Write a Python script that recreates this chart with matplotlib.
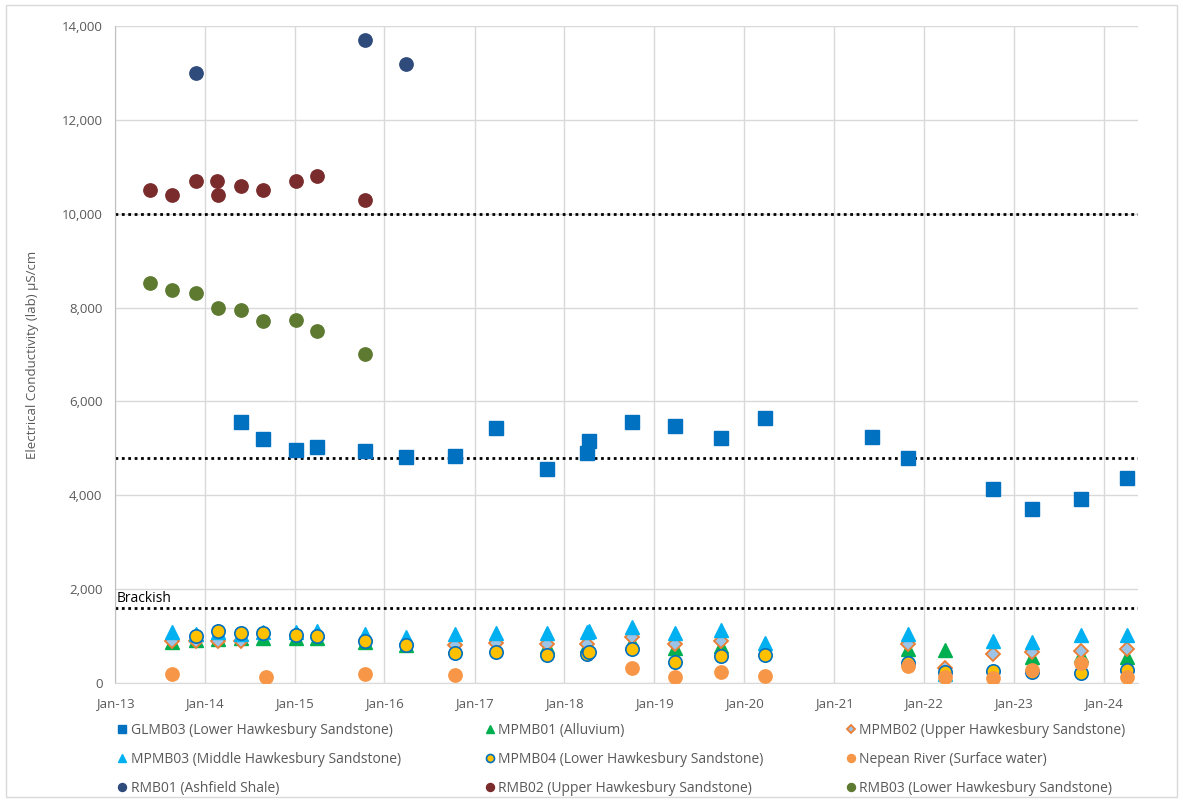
import matplotlib.pyplot as plt
import matplotlib.dates as mdates
import matplotlib.ticker as mticker
import pandas as pd
from matplotlib.patches import Rectangle

plt.rcParams['font.family'] = ['Open Sans', 'DejaVu Sans']

# ---------- data (EC, uS/cm) ----------
glmb03_dates = ["2014-05-27", "2014-08-26", "2015-01-08", "2015-04-01", "2015-10-13",
                "2016-03-30", "2016-10-13", "2017-03-28", "2017-10-22", "2018-04-01",
                "2018-04-12", "2018-10-01", "2019-03-25", "2019-10-01", "2020-03-28",
                "2021-06-04", "2021-10-30", "2022-10-08", "2023-03-15", "2023-10-01",
                "2024-04-05"]
glmb03_ec = [5570, 5200, 4960, 5020, 4950, 4820, 4840, 5440, 4560, 4900,
             5150, 5560, 5480, 5220, 5650, 5250, 4790, 4130, 3700, 3930, 4370]

mpmb01_dates = ["2013-08-20", "2013-11-25", "2014-02-22", "2014-05-27", "2014-08-26",
                "2015-01-08", "2015-04-01", "2015-10-13", "2016-03-30", "2016-10-13",
                "2017-10-22", "2018-04-01", "2018-10-01", "2019-03-25", "2019-10-01",
                "2021-10-30", "2022-03-28", "2023-03-15", "2023-10-01", "2024-04-05"]
mpmb01_ec = [880, 920, 930, 960, 960, 950, 950, 880, 800, 790,
             780, 820, 880, 740, 780, 720, 700, 550, 600, 560]

mpmb02_dates = ["2013-08-20", "2013-11-25", "2014-02-22", "2014-05-27", "2016-10-13",
                "2017-03-28", "2017-10-22", "2018-04-01", "2018-10-01", "2019-03-25",
                "2019-10-01", "2021-10-30", "2022-03-28", "2022-10-08", "2023-03-15",
                "2023-10-01", "2024-04-05"]
mpmb02_ec = [900, 900, 900, 900, 800, 860, 840, 840, 970, 840,
             900, 830, 320, 620, 650, 690, 720]

mpmb03_dates = ["2013-08-20", "2013-11-25", "2014-02-22", "2014-05-27", "2014-08-26",
                "2015-01-08", "2015-04-01", "2015-10-13", "2016-03-30", "2016-10-13",
                "2017-03-28", "2017-10-22", "2018-04-01", "2018-04-12", "2018-10-01",
                "2019-03-25", "2019-10-01", "2020-03-28", "2021-10-30", "2022-03-28",
                "2022-10-08", "2023-03-15", "2023-10-01", "2024-04-05"]
mpmb03_ec = [1090, 1050, 1080, 1050, 1090, 1090, 1100, 1050, 980, 1040,
             1070, 1070, 1080, 1100, 1200, 1070, 1120, 850, 1050, 190,
             900, 870, 1030, 1030]

mpmb04_dates = ["2013-11-25", "2014-02-22", "2014-05-27", "2014-08-26", "2015-01-08",
                "2015-04-01", "2015-10-13", "2016-03-30", "2016-10-13", "2017-03-28",
                "2017-10-22", "2018-04-01", "2018-04-12", "2018-10-01", "2019-03-25",
                "2019-10-01", "2020-03-28", "2021-10-30", "2022-03-28", "2022-10-08",
                "2023-03-15", "2023-10-01", "2024-04-05"]
mpmb04_ec = [1000, 1110, 1060, 1060, 1030, 1000, 900, 800, 630, 650,
             590, 620, 670, 720, 440, 570, 600, 420, 240, 260,
             240, 210, 270]

nepean_dates = ["2013-08-20", "2014-09-05", "2015-10-13", "2016-10-13", "2018-10-01",
                "2019-03-25", "2019-10-01", "2020-03-28", "2021-10-30", "2022-03-28",
                "2022-10-08", "2023-03-15", "2023-10-01", "2024-04-05"]
nepean_ec = [200, 130, 200, 180, 310, 120, 230, 150, 360, 130, 100, 280, 420, 120]

rmb01_dates = ["2013-11-25", "2015-10-13", "2016-03-30"]
rmb01_ec = [13000, 13700, 13200]

rmb02_dates = ["2013-05-22", "2013-08-20", "2013-11-25", "2014-02-20", "2014-02-24",
               "2014-05-27", "2014-08-26", "2015-01-08", "2015-04-01", "2015-10-13"]
rmb02_ec = [10500, 10400, 10700, 10700, 10400, 10600, 10500, 10700, 10800, 10300]

rmb03_dates = ["2013-05-22", "2013-08-20", "2013-11-25", "2014-02-22", "2014-05-27",
               "2014-08-26", "2015-01-08", "2015-04-01", "2015-10-13"]
rmb03_ec = [8530, 8370, 8300, 8000, 7940, 7710, 7730, 7500, 7000]

guide_levels = [10000, 4800, 1600]

# ---------- figure ----------
fig = plt.figure(figsize=(11.83, 8.02), dpi=100)
ax = fig.add_axes([0.0972, 0.1484, 0.8648, 0.8192])

def d(lst):
    return pd.to_datetime(lst)

ms = 9.6
series = [
    ("GLMB03 (Lower Hawkesbury Sandstone)", glmb03_dates, glmb03_ec,
     dict(marker="s", color="#0070C0", markeredgecolor="#0070C0")),
    ("MPMB01 (Alluvium)", mpmb01_dates, mpmb01_ec,
     dict(marker="^", color="#00B050", markeredgecolor="#00B050")),
    ("MPMB02 (Upper Hawkesbury Sandstone)", mpmb02_dates, mpmb02_ec,
     dict(marker="D", color="#9DC3E6", markeredgecolor="#ED7D31", markeredgewidth=1.3, markersize=7.5)),
    ("MPMB03 (Middle Hawkesbury Sandstone)", mpmb03_dates, mpmb03_ec,
     dict(marker="^", color="#00B0F0", markeredgecolor="#00B0F0")),
    ("MPMB04 (Lower Hawkesbury Sandstone)", mpmb04_dates, mpmb04_ec,
     dict(marker="o", color="#FFC000", markeredgecolor="#0070C0", markeredgewidth=1.2)),
    ("Nepean River (Surface water)", nepean_dates, nepean_ec,
     dict(marker="o", color="#F79646", markeredgecolor="#F79646")),
    ("RMB01 (Ashfield Shale)", rmb01_dates, rmb01_ec,
     dict(marker="o", color="#2F4B7C", markeredgecolor="#2F4B7C")),
    ("RMB02 (Upper Hawkesbury Sandstone)", rmb02_dates, rmb02_ec,
     dict(marker="o", color="#7A2B2B", markeredgecolor="#7A2B2B")),
    ("RMB03 (Lower Hawkesbury Sandstone)", rmb03_dates, rmb03_ec,
     dict(marker="o", color="#5E7A31", markeredgecolor="#5E7A31")),
]

handles = []
for i, (name, dates, vals, style) in enumerate(series):
    style = dict(style)
    style.setdefault("markersize", ms)
    h, = ax.plot(d(dates), vals, linestyle="none", label=name, zorder=3 + i * 0.1, **style)
    handles.append(h)

for lvl in guide_levels:
    ax.axhline(lvl, color="black", linestyle=(0, (1, 1.3)), linewidth=2, zorder=2)

ax.text(pd.Timestamp("2013-01-08"), 1650, "Brackish", fontsize=10, color="black",
        va="bottom", ha="left")

ax.set_ylim(0, 14000)
ax.set_xlim(pd.Timestamp("2013-01-01"), pd.Timestamp("2024-05-20"))
ax.yaxis.set_major_locator(mticker.MultipleLocator(2000))
ax.yaxis.set_major_formatter(mticker.FuncFormatter(lambda v, p: f"{v:,.0f}"))
ax.xaxis.set_major_locator(mdates.YearLocator())
ax.xaxis.set_major_formatter(mdates.DateFormatter("%b-%y"))

ax.grid(True, color="#D9D9D9", linewidth=1)
ax.set_axisbelow(True)
for s in ["top", "right"]:
    ax.spines[s].set_visible(False)
ax.spines["left"].set_color("#BFBFBF")
ax.spines["bottom"].set_color("#D9D9D9")
ax.tick_params(length=0, labelsize=9.5, labelcolor="#595959")
ax.tick_params(axis="y", pad=9)
ax.tick_params(axis="x", pad=10)

ax.set_ylabel("Electrical Conductivity (lab) µS/cm", fontsize=9.5, color="#595959", labelpad=16)

# legend in three columns, filled row-wise like the original
cols_x = [0.100, 0.4105, 0.7156]
for c in range(3):
    fig.legend(handles=[handles[c], handles[c + 3], handles[c + 6]],
               loc="upper left", bbox_to_anchor=(cols_x[c], 0.099),
               frameon=False, fontsize=10, labelcolor="#595959", markerscale=0.6,
               handlelength=0.6, handletextpad=0.3, labelspacing=1.02, borderpad=0,
               borderaxespad=0)

fig.patches.append(Rectangle((0.005, 0.006), 0.99, 0.988, transform=fig.transFigure,
                             fill=False, edgecolor="#D9D9D9", linewidth=1))

fig.savefig("out.png", dpi=100)
